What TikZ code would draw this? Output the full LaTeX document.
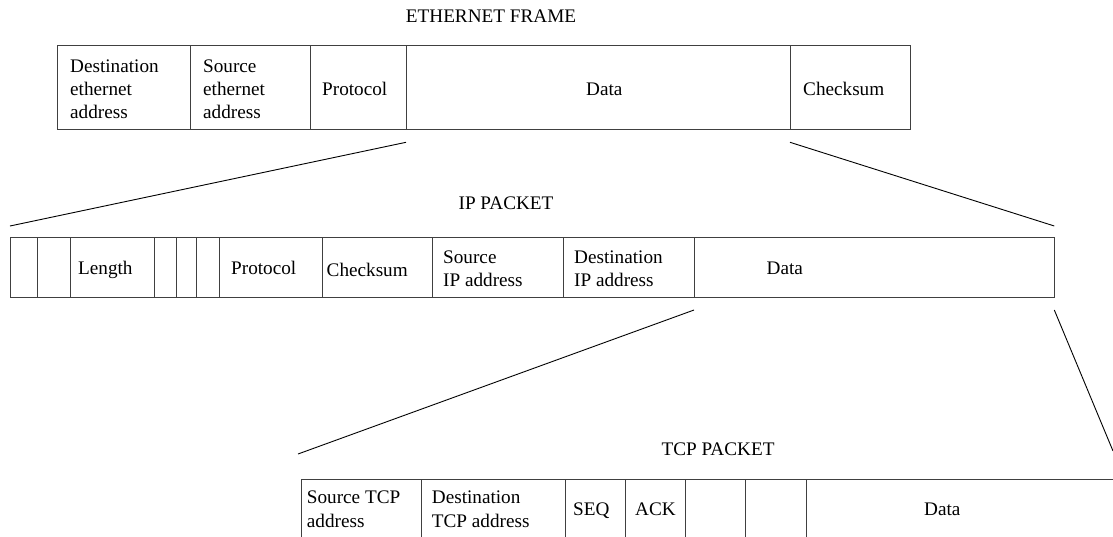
\documentclass[tikz,border=0pt]{standalone}
\usepackage{fontspec}
\setmainfont{Liberation Serif}
\begin{document}
\begin{tikzpicture}[x=1pt,y=-1pt,
  cellbox/.style={draw=black!75, line width=1pt, inner sep=0pt, outer sep=0pt, anchor=north west},
  ethcell/.style={cellbox, minimum height=84pt},
  ipcell/.style={cellbox, minimum height=60.2pt},
  tcpcell/.style={cellbox, minimum height=66pt},
  lbl/.style={anchor=base west, inner sep=0pt, font=\fontsize{19.2}{23}\selectfont},
  ttl/.style={anchor=base, inner sep=0pt, font=\fontsize{19.2}{23}\selectfont},
  zoomline/.style={draw=black, line width=0.9pt}]
\useasboundingbox (0,0) rectangle (1113,536);

% ---------- Ethernet frame ----------
\node[ttl] (ethtitle) at (491,22) {ETHERNET FRAME};
\node[ethcell, minimum width=133pt] (e1) at (57,45.7) {};
\node[ethcell, minimum width=120pt] (e2) at (190,45.7) {};
\node[ethcell, minimum width=96pt]  (e3) at (310,45.7) {};
\node[ethcell, minimum width=384pt] (e4) at (406,45.7) {};
\node[ethcell, minimum width=120.5pt] (e5) at (790,45.7) {};
\node[lbl] (e1a) at (70,72) {Destination};
\node[lbl] (e1b) at (70,95) {ethernet};
\node[lbl] (e1c) at (70,118) {address};
\node[lbl] (e2a) at (203,72) {Source};
\node[lbl] (e2b) at (203,95) {ethernet};
\node[lbl] (e2c) at (203,118) {address};
\node[lbl] (e3a) at (322,95) {Protocol};
\node[lbl] (e4a) at (586,95) {Data};
\node[lbl] (e5a) at (803,95) {Checksum};

% ---------- IP packet ----------
\node[ttl] (iptitle) at (506,209) {IP PACKET};
\node[ipcell, minimum width=27pt]  (i1) at (10,237.5) {};
\node[ipcell, minimum width=33pt]  (i2) at (37,237.5) {};
\node[ipcell, minimum width=84pt]  (i3) at (70,237.5) {};
\node[ipcell, minimum width=22pt]  (i4) at (154,237.5) {};
\node[ipcell, minimum width=20pt]  (i5) at (176,237.5) {};
\node[ipcell, minimum width=23pt]  (i6) at (196,237.5) {};
\node[ipcell, minimum width=103pt] (i7) at (219,237.5) {};
\node[ipcell, minimum width=110pt] (i8) at (322,237.5) {};
\node[ipcell, minimum width=131pt] (i9) at (432,237.5) {};
\node[ipcell, minimum width=131pt] (i10) at (563,237.5) {};
\node[ipcell, minimum width=360.3pt] (i11) at (694,237.5) {};
\node[lbl] (i3a) at (78,274) {Length};
\node[lbl] (i7a) at (231,274) {Protocol};
\node[lbl] (i8a) at (326.5,276) {Checksum};
\node[lbl] (i9a) at (443,263) {Source};
\node[lbl] (i9b) at (443,286.5) {IP address};
\node[lbl] (i10a) at (574,263) {Destination};
\node[lbl] (i10b) at (574,286.5) {IP address};
\node[lbl] (i11a) at (766.5,274) {Data};

% ---------- TCP packet ----------
\node[ttl] (tcptitle) at (718,455.5) {TCP PACKET};
\node[tcpcell, minimum width=120pt] (t1) at (301.7,479) {};
\node[tcpcell, minimum width=144pt] (t2) at (421.7,479) {};
\node[tcpcell, minimum width=60pt]  (t3) at (565.7,479) {};
\node[tcpcell, minimum width=60pt]  (t4) at (625.7,479) {};
\node[tcpcell, minimum width=60pt]  (t5) at (685.7,479) {};
\node[tcpcell, minimum width=60.3pt] (t6) at (745.7,479) {};
\node[tcpcell, minimum width=319pt] (t7) at (806,479) {};
\node[lbl] (t1a) at (306.7,503.5) {Source TCP};
\node[lbl] (t1b) at (306.7,527) {address};
\node[lbl] (t2a) at (431.7,503.5) {Destination};
\node[lbl] (t2b) at (431.7,527) {TCP address};
\node[lbl] (t3a) at (573,515.5) {SEQ};
\node[lbl] (t4a) at (635,515.5) {ACK};
\node[lbl] (t7a) at (924,515.5) {Data};

% ---------- expansion lines ----------
\coordinate (ethDataL) at (406,142.3);
\coordinate (ipL) at (10,226);
\coordinate (ethDataR) at (790,142.3);
\coordinate (ipR) at (1054.3,226);
\coordinate (ipDataL) at (694,310);
\coordinate (tcpL) at (298,454);
\coordinate (ipDataR) at (1054.3,310);
\coordinate (tcpR) at (1113,451);
\draw[zoomline] (ethDataL) -- (ipL);
\draw[zoomline] (ethDataR) -- (ipR);
\draw[zoomline] (ipDataL) -- (tcpL);
\draw[zoomline] (ipDataR) -- (tcpR);
\end{tikzpicture}
\end{document}
